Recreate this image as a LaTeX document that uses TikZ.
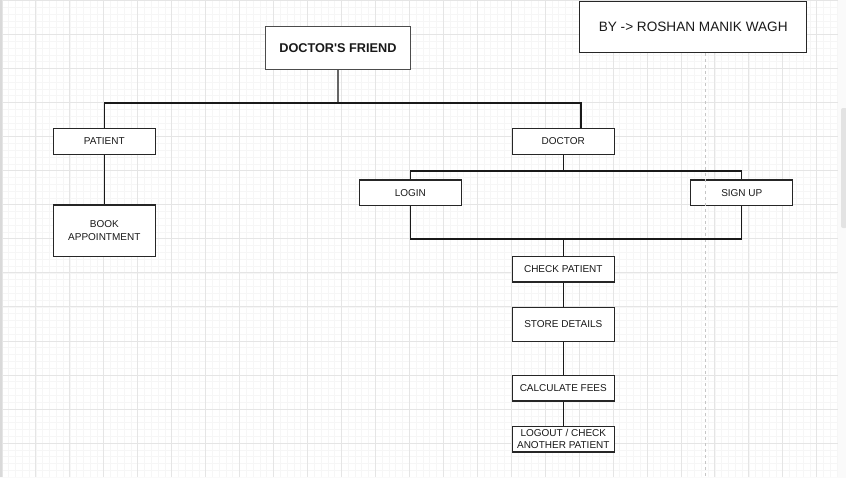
\documentclass[tikz,border=0pt]{standalone}
\usepackage{fontspec}
\setmainfont{Liberation Sans}[Ligatures=TeXOff]
\begin{document}
\begin{tikzpicture}[x=1pt,y=-1pt,
  box/.style={draw=black!85, line width=1.3pt, fill=white, inner sep=0pt,
    text=black!90, font=\fontsize{10}{12.5}\selectfont, align=center,
    minimum width=102pt, minimum height=25.6pt},
  conn/.style={draw=black!90, line width=1.2pt},
  minorgrid/.style={draw=gray!7, line width=0.8pt},
  majorgrid/.style={draw=gray!20, line width=1pt},
]
\useasboundingbox (0,0) rectangle (846,477);
\fill[white] (0,0) rectangle (846,477);
\fill[gray!4] (838,0) rectangle (846,477);
\fill[gray!4] (0,476.5) rectangle (846,477);
% grid
\begin{scope}
  \clip (1.5,0) rectangle (838,476.5);
  \foreach \i in {0,...,124} {\draw[minorgrid] (2+6.79*\i,0) -- ++(0,477);}
  \foreach \i in {0,...,70} {\draw[minorgrid] (0,0.5+6.81*\i) -- ++(838,0);}
  \foreach \i in {0,...,25} {\draw[majorgrid] (2+33.95*\i,0) -- ++(0,477);}
  \foreach \i in {0,...,14} {\draw[majorgrid] (0,0.5+34.05*\i) -- ++(838,0);}
\end{scope}
\draw[gray!30, line width=1.5pt] (0.75,0) -- (0.75,477);
\fill[gray!22, rounded corners=2pt] (841,108) rectangle (847,228);

% nodes
\node[box, draw=black!70, minimum width=144.8pt, minimum height=42.6pt,
  font=\bfseries\fontsize{12.7}{14}\selectfont] (title) at (337.9,48) {DOCTOR'S FRIEND};
\node[box, minimum width=227pt, minimum height=51pt,
  font=\fontsize{13.6}{15}\selectfont] (by) at (693.2,26.8) {BY -> ROSHAN MANIK WAGH};
\node[box] (patient) at (104.3,141.5) {PATIENT};
\node[box, minimum height=51.3pt] (book) at (104.3,230.7) {BOOK\\APPOINTMENT};
\node[box] (doctor) at (563.3,141.5) {DOCTOR};
\node[box, minimum height=25.3pt] (login) at (410.4,192.7) {LOGIN};
\node[box, minimum height=25.3pt] (signup) at (741.8,192.7) {SIGN UP};
\node[box, minimum height=25.7pt] (check) at (563.3,269.2) {CHECK PATIENT};
\node[box, minimum height=34pt] (store) at (563.3,324.3) {STORE DETAILS};
\node[box, minimum height=25.7pt] (fees) at (563.3,388.2) {CALCULATE FEES};
\node[box, minimum height=25.7pt, font=\fontsize{10}{11.7}\selectfont] (logout) at (563.3,439.2) {LOGOUT / CHECK\\ANOTHER PATIENT};

% helper coordinates
\coordinate (b1) at (337.9,103);
\coordinate (b2) at (581,103);
\coordinate (b3) at (563.3,171);
\coordinate (b4) at (563.3,239);
\coordinate (dashend) at (705.5,477);

% dashed guide
\draw[gray!45, line width=1pt, dash pattern=on 3pt off 3pt] (by.south -| dashend) -- (dashend);

% connectors
\draw[conn, draw=black!60] (title.south) -- (b1);
\draw[conn] (patient.north) |- (b1) -- (b2) -- (b2 |- doctor.north);
\draw[conn] (patient.south) -- (book.north);
\draw[conn] (doctor.south) -- (b3);
\draw[conn] (login.north) |- (b3) -| (signup.north);
\draw[conn] (login.south) |- (b4) -| (signup.south);
\draw[conn] (b4) -- (check.north);
\draw[conn] (check.south) -- (store.north);
\draw[conn] (store.south) -- (fees.north);
\draw[conn] (fees.south) -- (logout.north);
\end{tikzpicture}
\end{document}
